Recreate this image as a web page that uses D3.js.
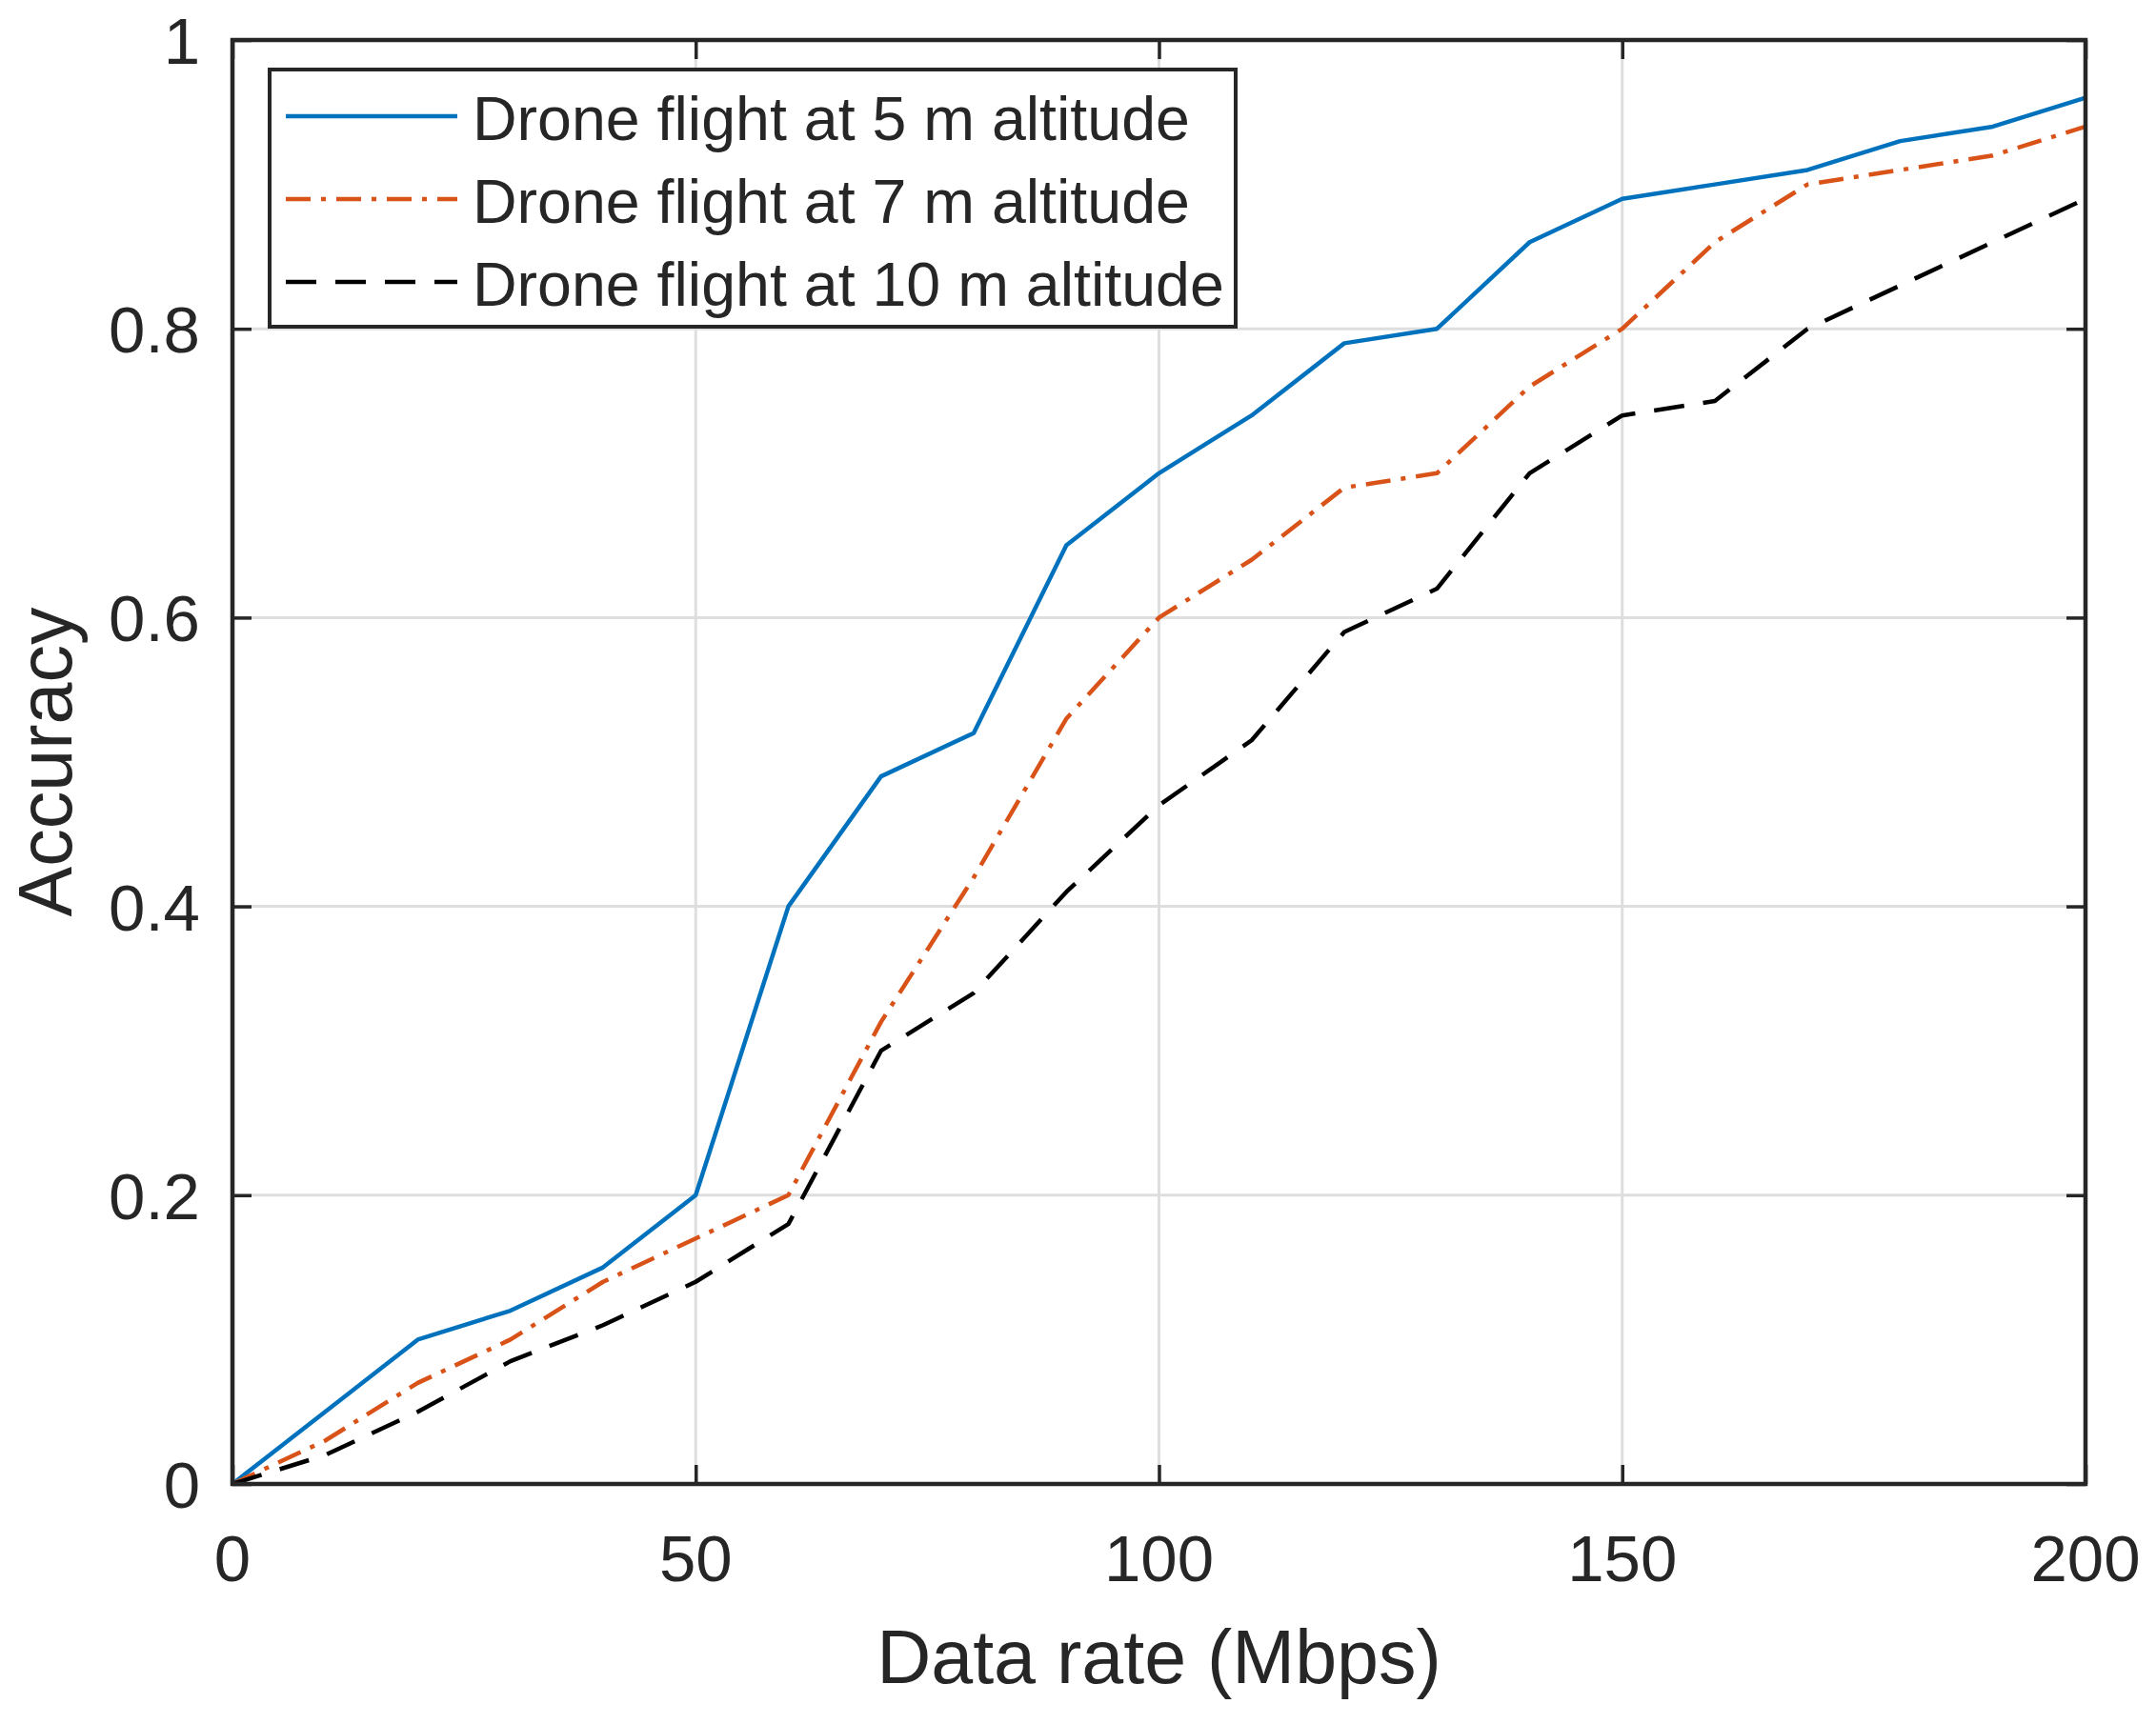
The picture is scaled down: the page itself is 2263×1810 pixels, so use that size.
<!DOCTYPE html>
<html>
<head>
<meta charset="utf-8">
<script src="https://cdn.jsdelivr.net/npm/d3@7"></script>
<style>
  body { margin: 0; background: #fff; }
  text { font-family: "Liberation Sans", Arial, Helvetica, sans-serif; fill: #262626; }
</style>
</head>
<body>
<div id="chart"></div>
<script>
const svgWidth = 2263;
const svgHeight = 1810;

const margin = { top: 42, right: 74, bottom: 252, left: 244 };
const width = svgWidth - margin.left - margin.right;
const height = svgHeight - margin.top - margin.bottom;

// Data
const dataRate = [0, 10, 20, 30, 40, 50, 60, 70, 80, 90, 100, 110, 120, 130, 140, 150, 160, 170, 180, 190, 200];
const acc5m  = [0, 0.05, 0.10, 0.12, 0.15, 0.20, 0.40, 0.49, 0.52, 0.65, 0.70, 0.74, 0.79, 0.80, 0.86, 0.89, 0.90, 0.91, 0.93, 0.94, 0.96];
const acc7m  = [0, 0.03, 0.07, 0.10, 0.14, 0.17, 0.20, 0.32, 0.42, 0.53, 0.60, 0.64, 0.69, 0.70, 0.76, 0.80, 0.86, 0.90, 0.91, 0.92, 0.94];
const acc10m = [0, 0.02, 0.05, 0.085, 0.11, 0.14, 0.18, 0.30, 0.34, 0.41, 0.47, 0.515, 0.59, 0.62, 0.70, 0.74, 0.75, 0.80, 0.83, 0.86, 0.89];

const seriesNames = ["Drone flight at 5 m altitude", "Drone flight at 7 m altitude", "Drone flight at 10 m altitude"];
const xTicks = [0, 50, 100, 150, 200];
const yTicks = [0, 0.2, 0.4, 0.6, 0.8, 1];

const series = [
  { name: seriesNames[0], values: acc5m,  color: "#0072BD", dash: null },
  { name: seriesNames[1], values: acc7m,  color: "#D95319", dash: "26,11,5,11" },
  { name: seriesNames[2], values: acc10m, color: "#000000", dash: "32,20" }
];

const svg = d3.select("#chart")
  .append("svg")
  .attr("width", svgWidth)
  .attr("height", svgHeight);

svg.append("rect").attr("width", svgWidth).attr("height", svgHeight).attr("fill", "#fff");

const chartGroup = svg.append("g")
  .attr("transform", `translate(${margin.left}, ${margin.top})`);

const xScale = d3.scaleLinear().domain([0, 200]).range([0, width]);
const yScale = d3.scaleLinear().domain([0, 1]).range([height, 0]);

// grid
chartGroup.append("g")
  .selectAll("line")
  .data(xTicks)
  .join("line")
  .attr("x1", d => xScale(d)).attr("x2", d => xScale(d))
  .attr("y1", 0).attr("y2", height)
  .attr("stroke", "#dedede").attr("stroke-width", 3);

chartGroup.append("g")
  .selectAll("line")
  .data(yTicks)
  .join("line")
  .attr("x1", 0).attr("x2", width)
  .attr("y1", d => yScale(d)).attr("y2", d => yScale(d))
  .attr("stroke", "#dedede").attr("stroke-width", 3);

// lines
const line = d3.line()
  .x((d, i) => xScale(dataRate[i]))
  .y(d => yScale(d));

series.forEach(s => {
  chartGroup.append("path")
    .datum(s.values)
    .attr("d", line)
    .attr("fill", "none")
    .attr("stroke", s.color)
    .attr("stroke-width", 4.5)
    .attr("stroke-linejoin", "round")
    .attr("stroke-dasharray", s.dash);
});

// axes (inward ticks on all four sides)
const tickLen = 20;
function styleAxis(g) {
  g.selectAll("line").attr("stroke", "#262626").attr("stroke-width", 3.5);
  g.select(".domain").remove();
}
chartGroup.append("g").attr("transform", `translate(0,${height})`)
  .call(d3.axisBottom(xScale).tickValues(xTicks).tickSizeInner(-tickLen).tickSizeOuter(0).tickFormat(""))
  .call(styleAxis);
chartGroup.append("g")
  .call(d3.axisTop(xScale).tickValues(xTicks).tickSizeInner(-tickLen).tickSizeOuter(0).tickFormat(""))
  .call(styleAxis);
chartGroup.append("g")
  .call(d3.axisLeft(yScale).tickValues(yTicks).tickSizeInner(-tickLen).tickSizeOuter(0).tickFormat(""))
  .call(styleAxis);
chartGroup.append("g").attr("transform", `translate(${width},0)`)
  .call(d3.axisRight(yScale).tickValues(yTicks).tickSizeInner(-tickLen).tickSizeOuter(0).tickFormat(""))
  .call(styleAxis);

// box
chartGroup.append("rect")
  .attr("width", width).attr("height", height)
  .attr("fill", "none").attr("stroke", "#262626").attr("stroke-width", 4.5);

// tick labels
chartGroup.append("g")
  .selectAll("text")
  .data(xTicks)
  .join("text")
  .attr("x", d => xScale(d))
  .attr("y", height + 102)
  .attr("text-anchor", "middle")
  .attr("font-size", 69)
  .text(d => d);

chartGroup.append("g")
  .selectAll("text")
  .data(yTicks)
  .join("text")
  .attr("x", -34)
  .attr("y", d => yScale(d) + 25)
  .attr("text-anchor", "end")
  .attr("font-size", 69)
  .text(d => d);

// axis titles
chartGroup.append("text")
  .attr("x", width / 2)
  .attr("y", height + 209)
  .attr("text-anchor", "middle")
  .attr("font-size", 79)
  .text("Data rate (Mbps)");

chartGroup.append("text")
  .attr("transform", `translate(${75 - margin.left},${height / 2}) rotate(-90)`)
  .attr("text-anchor", "middle")
  .attr("font-size", 79)
  .text("Accuracy");

// legend
const legend = svg.append("g").attr("transform", "translate(283,73)");
legend.append("rect")
  .attr("width", 1014).attr("height", 270)
  .attr("fill", "#fff").attr("stroke", "#262626").attr("stroke-width", 4);

const rows = legend.selectAll("g.row")
  .data(series)
  .join("g")
  .attr("class", "row")
  .attr("transform", (d, i) => `translate(0,${49 + i * 87})`);

rows.append("line")
  .attr("x1", 17).attr("x2", 197)
  .attr("stroke", d => d.color)
  .attr("stroke-width", 4.5)
  .attr("stroke-dasharray", d => d.dash);

rows.append("text")
  .attr("x", 213)
  .attr("y", 25)
  .attr("font-size", 64.5)
  .text(d => d.name);
</script>
</body>
</html>
